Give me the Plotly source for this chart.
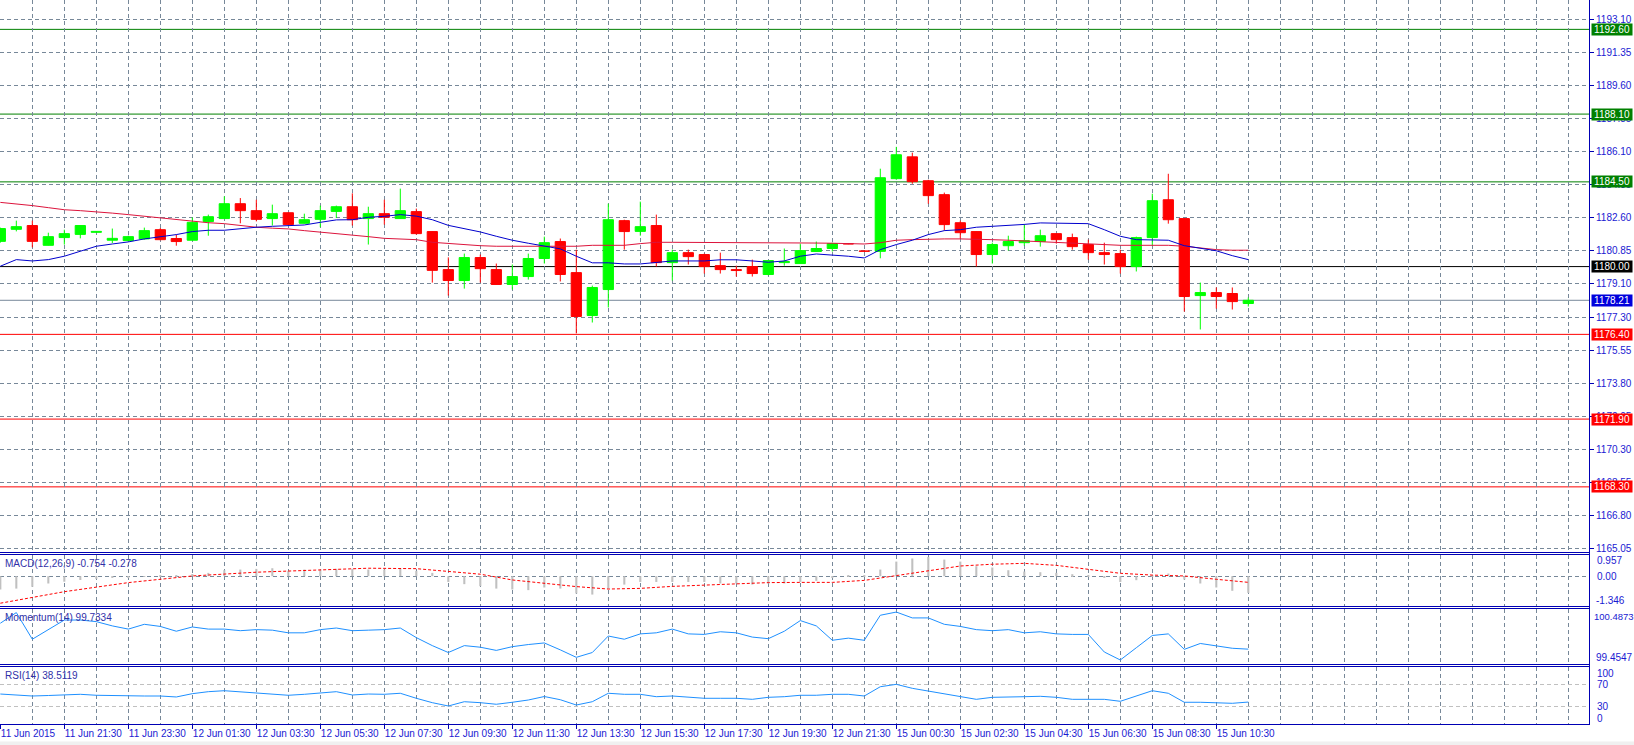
import plotly.graph_objects as go

W, H = 1634, 745
PLOT_RIGHT = 1589  # px, right price-axis line

# ---------------- data ----------------
time_tick_text = ["11 Jun 2015", "11 Jun 21:30", "11 Jun 23:30", "12 Jun 01:30", "12 Jun 03:30",
                  "12 Jun 05:30", "12 Jun 07:30", "12 Jun 09:30", "12 Jun 11:30", "12 Jun 13:30",
                  "12 Jun 15:30", "12 Jun 17:30", "12 Jun 19:30", "12 Jun 21:30", "15 Jun 00:30",
                  "15 Jun 02:30", "15 Jun 04:30", "15 Jun 06:30", "15 Jun 08:30", "15 Jun 10:30"]
time_tick_bars = list(range(0, 80, 4))

opens = [1181.34, 1181.98, 1182.18, 1181.13, 1181.54, 1181.71, 1181.82, 1181.40, 1181.38, 1181.47,
         1181.96, 1181.49, 1181.40, 1182.39, 1182.55, 1183.34, 1182.97, 1182.55, 1182.86, 1182.30,
         1182.51, 1182.93, 1183.18, 1182.55, 1182.81, 1182.55, 1182.92, 1181.86, 1179.84, 1179.26,
         1180.48, 1179.84, 1179.05, 1179.47, 1180.43, 1181.33, 1179.68, 1177.40, 1178.78, 1182.44,
         1181.87, 1182.18, 1180.21, 1180.74, 1180.64, 1180.05, 1179.84, 1180.00, 1179.58, 1180.21,
         1180.16, 1180.80, 1180.96, 1181.21, 1180.83, 1180.81, 1184.67, 1185.83, 1184.56, 1183.82,
         1182.33, 1181.86, 1180.64, 1181.11, 1181.27, 1181.33, 1181.75, 1181.54, 1181.17, 1180.74,
         1180.69, 1180.00, 1181.54, 1183.55, 1182.55, 1178.46, 1178.62, 1178.57, 1178.04]
closes = [1182.02, 1182.12, 1181.34, 1181.59, 1181.75, 1182.18, 1181.87, 1181.50, 1181.59, 1181.91,
          1181.43, 1181.33, 1182.35, 1182.65, 1183.34, 1182.97, 1182.51, 1182.81, 1182.23, 1182.49,
          1182.97, 1183.18, 1182.49, 1182.81, 1182.62, 1182.97, 1181.75, 1179.80, 1179.26, 1180.48,
          1179.89, 1179.05, 1179.47, 1180.43, 1181.27, 1179.58, 1177.35, 1178.89, 1182.49, 1181.86,
          1182.12, 1180.21, 1180.74, 1180.53, 1180.00, 1179.84, 1179.79, 1179.63, 1180.32, 1180.27,
          1180.85, 1180.96, 1181.22, 1181.20, 1180.81, 1184.72, 1185.94, 1184.51, 1183.77, 1182.23,
          1181.80, 1180.64, 1181.17, 1181.33, 1181.38, 1181.64, 1181.43, 1181.06, 1180.74, 1180.64,
          1180.00, 1181.54, 1183.50, 1182.49, 1178.41, 1178.62, 1178.41, 1178.14, 1178.21]
highs = [1182.07, 1182.44, 1182.44, 1181.80, 1181.96, 1182.18, 1181.87, 1182.02, 1181.64, 1182.07,
         1182.05, 1181.70, 1182.61, 1182.76, 1183.73, 1183.64, 1183.55, 1183.29, 1182.86, 1182.81,
         1183.24, 1183.24, 1183.89, 1183.18, 1183.55, 1184.14, 1183.08, 1181.86, 1180.49, 1180.69,
         1180.64, 1180.16, 1180.11, 1180.69, 1181.59, 1181.49, 1180.90, 1178.99, 1183.34, 1182.49,
         1183.45, 1182.76, 1180.90, 1180.90, 1180.69, 1180.74, 1180.05, 1180.37, 1180.32, 1180.96,
         1181.22, 1181.33, 1181.27, 1181.22, 1180.85, 1185.20, 1186.36, 1186.05, 1184.61, 1183.93,
         1182.44, 1181.86, 1181.27, 1181.64, 1182.23, 1181.96, 1181.75, 1181.75, 1181.43, 1181.27,
         1180.90, 1181.59, 1183.87, 1184.93, 1182.55, 1179.15, 1178.89, 1178.89, 1178.36]
lows = [1181.27, 1181.87, 1181.02, 1181.13, 1181.17, 1181.50, 1181.82, 1181.25, 1181.33, 1181.43,
        1181.40, 1181.11, 1181.40, 1181.64, 1182.55, 1182.30, 1182.40, 1182.18, 1182.23, 1182.28,
        1182.09, 1182.58, 1182.18, 1181.17, 1182.23, 1182.55, 1181.70, 1179.15, 1178.46, 1178.83,
        1179.15, 1179.05, 1178.78, 1179.31, 1180.16, 1179.21, 1176.45, 1177.03, 1177.83, 1180.90,
        1181.64, 1180.00, 1179.26, 1180.11, 1179.63, 1179.63, 1179.47, 1179.47, 1179.53, 1180.05,
        1180.16, 1180.80, 1180.80, 1181.19, 1180.80, 1180.44, 1184.61, 1184.40, 1183.34, 1181.91,
        1181.49, 1180.00, 1180.16, 1180.85, 1181.11, 1181.06, 1181.22, 1180.90, 1180.37, 1180.11,
        1179.63, 1179.74, 1181.11, 1182.28, 1177.61, 1176.66, 1177.77, 1177.72, 1177.88]

ma_fast = [1180.02, 1180.37, 1180.30, 1180.37, 1180.55, 1180.81, 1181.08, 1181.20, 1181.31, 1181.47,
           1181.58, 1181.70, 1181.86, 1181.93, 1181.93, 1182.02, 1182.09, 1182.14, 1182.19, 1182.21,
           1182.35, 1182.48, 1182.49, 1182.62, 1182.67, 1182.76, 1182.68, 1182.49, 1182.19, 1182.03,
           1181.84, 1181.61, 1181.40, 1181.24, 1181.10, 1180.94, 1180.55, 1180.20, 1180.20, 1180.14,
           1180.14, 1180.23, 1180.30, 1180.30, 1180.30, 1180.36, 1180.36, 1180.30, 1180.23, 1180.30,
           1180.55, 1180.67, 1180.62, 1180.55, 1180.46, 1180.90, 1181.17, 1181.40, 1181.70, 1181.91,
           1181.96, 1182.09, 1182.14, 1182.18, 1182.24, 1182.32, 1182.32, 1182.32, 1182.28, 1181.96,
           1181.61, 1181.43, 1181.40, 1181.40, 1181.11, 1180.99, 1180.84, 1180.58, 1180.37]
ma_slow = [1183.41, 1183.33, 1183.24, 1183.13, 1183.02, 1182.97, 1182.92, 1182.84, 1182.76, 1182.68,
           1182.60, 1182.49, 1182.40, 1182.33, 1182.28, 1182.18, 1182.09, 1182.04, 1182.00, 1181.91,
           1181.84, 1181.75, 1181.66, 1181.59, 1181.50, 1181.46, 1181.43, 1181.29, 1181.22, 1181.17,
           1181.11, 1181.08, 1181.08, 1181.08, 1181.11, 1181.11, 1181.08, 1181.13, 1181.13, 1181.13,
           1181.22, 1181.29, 1181.29, 1181.29, 1181.29, 1181.29, 1181.29, 1181.29, 1181.29, 1181.26,
           1181.26, 1181.25, 1181.24, 1181.20, 1181.20, 1181.27, 1181.40, 1181.43, 1181.47, 1181.47,
           1181.47, 1181.47, 1181.43, 1181.40, 1181.36, 1181.31, 1181.31, 1181.26, 1181.22, 1181.17,
           1181.13, 1181.13, 1181.13, 1181.13, 1181.08, 1181.00, 1180.90, 1180.87, 1180.87]

macd_hist = [-0.60, -0.56, -0.48, -0.33, -0.25, -0.17, -0.12, -0.08, -0.05, -0.02,
             0.02, 0.05, 0.10, 0.15, 0.27, 0.30, 0.33, 0.36, 0.24, 0.30,
             0.30, 0.33, 0.33, 0.30, 0.30, 0.33, 0.24, 0.15, -0.26, -0.36,
             -0.45, -0.56, -0.60, -0.63, -0.51, -0.56, -0.78, -0.83, -0.56, -0.38,
             -0.26, -0.26, -0.26, -0.26, -0.26, -0.33, -0.33, -0.38, -0.33, -0.33,
             -0.26, -0.21, -0.06, 0.05, 0.02, 0.30, 0.66, 0.80, 0.87, 0.75,
             0.66, 0.45, 0.39, 0.27, 0.21, 0.18, 0.15, 0.09, 0.05, -0.06,
             -0.26, -0.18, 0.05, 0.12, -0.15, -0.33, -0.51, -0.66, -0.754]
signal_bars = [0, 4, 8, 12, 16, 20, 23, 26, 28, 30, 32, 34, 35, 36, 38, 40, 42, 44, 46, 48,
               50, 52, 54, 56, 58, 60, 62, 64, 66, 68, 70, 72, 74, 76, 78]
signal_vals = [-1.22, -0.70, -0.29, 0.01, 0.18, 0.28, 0.36, 0.34, 0.23, 0.09, -0.17, -0.32, -0.40, -0.47, -0.58,
               -0.55, -0.46, -0.40, -0.32, -0.29, -0.28, -0.28, -0.19, 0.02, 0.23, 0.46, 0.54, 0.58, 0.49, 0.30,
               0.13, 0.05, 0.01, -0.14, -0.278]

momentum = [100.22, 100.42, 99.92, 100.10, 100.28, 100.28, 100.25, 100.17, 100.11, 100.20,
            100.16, 100.07, 100.15, 100.11, 100.11, 100.08, 100.10, 100.09, 100.04, 100.04,
            100.10, 100.13, 100.08, 100.09, 100.10, 100.13, 99.95, 99.80, 99.67, 99.80,
            99.77, 99.71, 99.78, 99.82, 99.85, 99.72, 99.58, 99.67, 99.98, 99.92,
            100.02, 100.04, 100.11, 100.02, 100.01, 100.06, 100.04, 99.96, 99.93, 100.07,
            100.27, 100.17, 99.90, 99.94, 99.90, 100.37, 100.43, 100.32, 100.32, 100.20,
            100.16, 100.10, 100.08, 100.10, 100.04, 100.06, 100.02, 100.01, 100.01, 99.68,
            99.53, 99.76, 99.99, 100.02, 99.73, 99.84, 99.79, 99.75, 99.7334]

rsi = [52.6, 50.9, 49.1, 50.0, 50.9, 52.1, 50.4, 49.6, 49.1, 49.1,
       49.1, 47.4, 53.2, 56.7, 58.4, 56.7, 53.9, 52.6, 50.4, 52.1,
       53.9, 56.7, 50.9, 52.6, 52.1, 53.9, 45.1, 37.4, 31.6, 39.1,
       37.4, 34.6, 38.1, 42.1, 48.2, 42.6, 33.3, 39.1, 53.9, 52.1,
       52.1, 47.9, 49.1, 46.8, 45.1, 45.1, 45.1, 43.3, 46.8, 47.9,
       50.4, 50.4, 52.1, 52.1, 49.1, 65.4, 69.6, 62.6, 57.9, 52.1,
       47.9, 43.3, 46.8, 46.8, 47.9, 48.6, 46.8, 43.3, 43.3, 43.3,
       39.8, 49.1, 58.4, 53.9, 38.1, 38.1, 37.4, 36.3, 38.5119]

price_tick_vals = [1193.10, 1191.35, 1189.60, 1187.85, 1186.10, 1184.35, 1182.60, 1180.85, 1179.10,
                   1177.30, 1175.55, 1173.80, 1172.05, 1170.30, 1168.55, 1166.80, 1165.05]
price_tick_text = ["%.2f" % v for v in price_tick_vals]

levels_green = [1192.60, 1188.10, 1184.50]
level_black = 1180.00
level_bid = 1178.21
levels_red = [1176.40, 1171.90, 1168.30]

macd_title = "MACD(12,26,9) -0.754 -0.278"
mom_title = "Momentum(14) 99.7334"
rsi_title = "RSI(14) 38.5119"

# ---------------- styling ----------------
FONT = "Liberation Sans, Arial, sans-serif"
TXT = "#1a1ad2"
AXIS = "#0000b4"
GRID = "#778899"
DASH = "4px,3px"
UP = "#00ff00"
DOWN = "#ff0000"

def py(px):
    return 1 - px / H

def pxx(px):
    return px / W

bars = list(range(len(opens)))
is_up = [c >= o for o, c in zip(opens, closes)]
colors = [UP if u else DOWN for u in is_up]
body_base = [min(o, c) for o, c in zip(opens, closes)]
body_h = [max(abs(c - o), 0.015) for o, c in zip(opens, closes)]

fig = go.Figure()

# wicks
for col, flag in ((UP, True), (DOWN, False)):
    wx, wy = [], []
    for i in bars:
        if is_up[i] == flag:
            wx += [i, i, None]
            wy += [lows[i], highs[i], None]
    fig.add_trace(go.Scatter(x=wx, y=wy, mode="lines", line=dict(color=col, width=1),
                             xaxis="x", yaxis="y", hoverinfo="skip", showlegend=False))

# bodies
fig.add_trace(go.Bar(x=bars, y=body_h, base=body_base, width=0.64,
                     marker=dict(color=colors, line=dict(color=colors, width=1)),
                     xaxis="x", yaxis="y", showlegend=False, hoverinfo="skip"))

# moving averages
fig.add_trace(go.Scatter(x=bars, y=ma_slow, mode="lines", line=dict(color="#dc143c", width=1),
                         xaxis="x", yaxis="y", showlegend=False, hoverinfo="skip"))
fig.add_trace(go.Scatter(x=bars, y=ma_fast, mode="lines", line=dict(color="#0000cd", width=1),
                         xaxis="x", yaxis="y", showlegend=False, hoverinfo="skip"))

# MACD
fig.add_trace(go.Bar(x=bars, y=macd_hist, width=0.13, marker=dict(color="#c0c0c0", line=dict(width=0)),
                     xaxis="x", yaxis="y2", showlegend=False, hoverinfo="skip"))
fig.add_trace(go.Scatter(x=signal_bars, y=signal_vals, mode="lines",
                         line=dict(color="#ff0000", width=1, dash="3px,2px"),
                         xaxis="x", yaxis="y2", showlegend=False, hoverinfo="skip"))

# Momentum
fig.add_trace(go.Scatter(x=bars, y=momentum, mode="lines", line=dict(color="#1e90ff", width=1),
                         xaxis="x", yaxis="y3", showlegend=False, hoverinfo="skip"))
# RSI
fig.add_trace(go.Scatter(x=bars, y=rsi, mode="lines", line=dict(color="#1e90ff", width=1),
                         xaxis="x", yaxis="y4", showlegend=False, hoverinfo="skip"))

x_range = [-0.02, (PLOT_RIGHT - 0.3) / 16.0]

common_y = dict(side="right", anchor="x", zeroline=False, showline=False, automargin=False,
                fixedrange=True, tickfont=dict(family=FONT, size=10, color=TXT))

shapes = []
# level lines
for v in levels_green:
    shapes.append(dict(type="line", xref="paper", x0=0, x1=pxx(PLOT_RIGHT), yref="y", y0=v, y1=v,
                       line=dict(color="#008000", width=1), layer="between"))
shapes.append(dict(type="line", xref="paper", x0=0, x1=pxx(PLOT_RIGHT), yref="y", y0=level_black, y1=level_black,
                   line=dict(color="#000000", width=1), layer="between"))
shapes.append(dict(type="line", xref="paper", x0=0, x1=pxx(PLOT_RIGHT), yref="y", y0=level_bid, y1=level_bid,
                   line=dict(color="#778899", width=1), layer="between"))
for v in levels_red:
    shapes.append(dict(type="line", xref="paper", x0=0, x1=pxx(PLOT_RIGHT), yref="y", y0=v, y1=v,
                       line=dict(color="#ff0000", width=1), layer="between"))
# panel separators
for ypx in (552.5, 554.5, 606.5, 608.5, 664.5, 666.5, 724.5):
    shapes.append(dict(type="line", xref="paper", x0=0, x1=pxx(PLOT_RIGHT + 1), yref="paper",
                       y0=py(ypx), y1=py(ypx), line=dict(color=AXIS, width=1), layer="above"))
# right axis line
shapes.append(dict(type="line", xref="paper", x0=pxx(PLOT_RIGHT + 0.5), x1=pxx(PLOT_RIGHT + 0.5),
                   yref="paper", y0=py(724.5), y1=1, line=dict(color=AXIS, width=1), layer="above"))
# status strip at bottom
shapes.append(dict(type="rect", xref="paper", x0=0, x1=1, yref="paper", y0=0, y1=py(741.5),
                   fillcolor="#f0f0f0", line=dict(width=0), layer="below"))

annotations = []
# price level boxes
box_specs = [(v, "#008000") for v in levels_green] + [(level_black, "#000000"), (level_bid, "#0000dc")] + \
            [(v, "#ff0000") for v in levels_red]
for v, bg in box_specs:
    annotations.append(dict(x=pxx(PLOT_RIGHT + 2), xref="paper", xanchor="left", y=v, yref="y",
                            yanchor="middle", text="%.2f" % v, showarrow=False, bgcolor=bg,
                            font=dict(family=FONT, size=10, color="#ffffff"), width=40, height=11,
                            borderpad=0, align="center"))
# indicator titles
for txt, ypx in ((macd_title, 563), (mom_title, 617.5), (rsi_title, 675.5)):
    annotations.append(dict(x=pxx(3), xref="paper", xanchor="left", y=py(ypx), yref="paper",
                            yanchor="middle", text=txt, showarrow=False,
                            font=dict(family=FONT, size=10, color="#3030a8")))
# indicator scale labels
for txt, ypx, xl in (("0.957", 560.7, 1595), ("0.00", 576, 1595), ("-1.346", 600, 1594),
                     ("100.4873", 616, 1592), ("99.4547", 657, 1594),
                     ("100", 673.3, 1595), ("70", 684.5, 1595), ("30", 706.7, 1595), ("0", 718.7, 1595)):
    annotations.append(dict(x=pxx(xl), xref="paper", xanchor="left", y=py(ypx), yref="paper",
                            yanchor="middle", text=txt, showarrow=False,
                            font=dict(family=FONT, size=10 if len(txt) < 8 else 9.5, color=TXT)))

fig.update_layout(
    width=W, height=H,
    margin=dict(l=0, r=0, t=0, b=0),
    paper_bgcolor="#ffffff", plot_bgcolor="#ffffff",
    barmode="overlay", showlegend=False,
    xaxis=dict(domain=[0, pxx(PLOT_RIGHT)], range=x_range, anchor="y4",
               tickmode="array", tickvals=time_tick_bars, ticktext=time_tick_text, tickangle=0,
               ticks="outside", ticklen=4, tickcolor=AXIS, ticklabelposition="outside right",
               tickfont=dict(family=FONT, size=10, color=TXT),
               showgrid=True, gridcolor=GRID, griddash=DASH, gridwidth=1,
               minor=dict(tickmode="linear", tick0=0, dtick=2, showgrid=True, gridcolor=GRID,
                          griddash=DASH, gridwidth=1, ticks=""),
               zeroline=False, showline=False, automargin=False, fixedrange=True),
    yaxis=dict(domain=[py(552), 1.0], range=[1164.84, 1194.16],
               tickmode="array", tickvals=price_tick_vals, ticktext=price_tick_text,
               ticks="outside", ticklen=4, tickcolor=AXIS,
               showgrid=True, gridcolor=GRID, griddash=DASH, gridwidth=1, **common_y),
    yaxis2=dict(domain=[py(606), py(555)], range=[-1.346, 0.957], tickmode="array", tickvals=[0],
                showticklabels=False, ticks="", showgrid=True, gridcolor=GRID, griddash=DASH, **common_y),
    yaxis3=dict(domain=[py(664), py(609)], range=[99.4547, 100.4873], showticklabels=False, ticks="",
                showgrid=False, **common_y),
    yaxis4=dict(domain=[py(724), py(667)], range=[0, 100], tickmode="array", tickvals=[30, 70],
                showticklabels=False, ticks="", showgrid=True, gridcolor="#c0c0c0", griddash=DASH, **common_y),
    shapes=shapes,
    annotations=annotations,
)

fig.write_html("out.html")
